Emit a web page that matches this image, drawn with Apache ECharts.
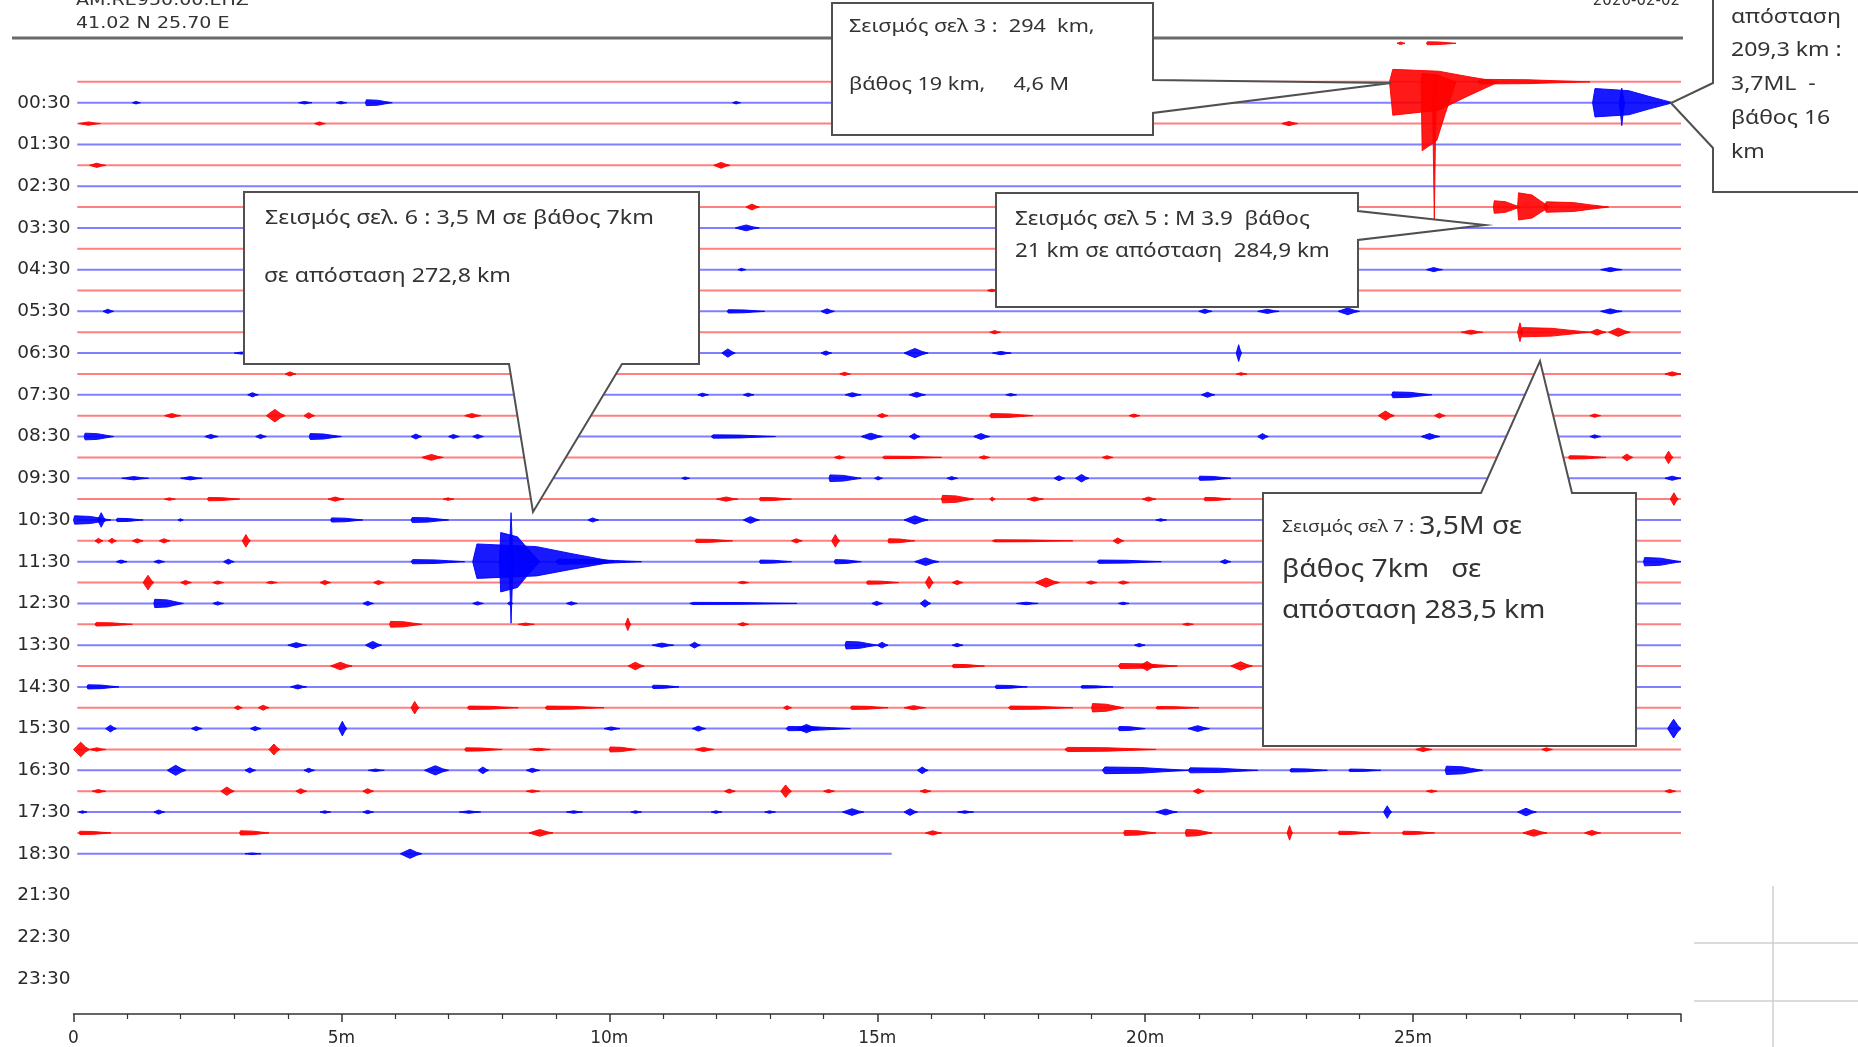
<!DOCTYPE html>
<html>
<head>
<meta charset="utf-8">
<title>AM.RE950.00.EHZ 2020-02-02</title>
<script src="https://cdn.jsdelivr.net/npm/echarts@6/dist/echarts.min.js"></script>
<style>
  html, body { margin: 0; padding: 0; background: #fff; }
  #main { width: 1858px; height: 1047px; }
</style>
</head>
<body>
<div id="main"></div>
<script>
// rows: 0 = 00:00 (red), 1 = 00:30 (blue), 2 = 01:00 ... 37 = 18:30
// x = minutes inside the half hour
const hourLabels = ['00:30', '01:30', '02:30', '03:30', '04:30', '05:30', '06:30', '07:30', '08:30', '09:30',
  '10:30', '11:30', '12:30', '13:30', '14:30', '15:30', '16:30', '17:30', '18:30', '21:30', '22:30', '23:30'];
const labelRows = [1, 3, 5, 7, 9, 11, 13, 15, 17, 19, 21, 23, 25, 27, 29, 31, 33, 35, 37, 39, 41, 43];
const minuteLabels = ['0', '5m', '10m', '15m', '20m', '25m'];

// [row, start min, end min]
const traceLines = [
  [0, 0.07, 30], [1, 0.07, 30], [2, 0.07, 30], [3, 0.07, 30], [4, 0.07, 30], [5, 0.07, 30],
  [6, 0.07, 30], [7, 0.07, 30], [8, 0.07, 30], [9, 0.07, 30], [10, 0.07, 30], [11, 0.07, 30],
  [12, 0.07, 30], [13, 0.07, 30], [14, 0.07, 30], [15, 0.07, 30], [16, 0.07, 30], [17, 0.07, 30],
  [18, 0.07, 30], [19, 0.07, 30], [20, 0.07, 30], [21, 0.07, 30], [22, 0.07, 30], [23, 0.07, 30],
  [24, 0.07, 30], [25, 0.07, 30], [26, 0.07, 30], [27, 0.07, 30], [28, 0.07, 30], [29, 0.07, 30],
  [30, 0.07, 30], [31, 0.07, 30], [32, 0.07, 30], [33, 0.07, 30], [34, 0.07, 30], [35, 0.07, 30],
  [36, 0.07, 30], [37, 0.07, 15.27]
];

// small wiggles: [row, start, end, amplitude (rows)]
const blips = [
  [1, 1.1, 1.25, 0.06], [1, 4.2, 4.45, 0.06], [1, 4.9, 5.1, 0.06], [1, 5.45, 5.95, 0.14], [1, 12.3, 12.45, 0.06],
  [2, 0.1, 0.5, 0.08], [2, 4.5, 4.7, 0.08], [2, 22.55, 22.85, 0.1],
  [4, 0.3, 0.6, 0.1], [4, 11.95, 12.25, 0.14],
  [6, 12.55, 12.8, 0.14],
  [7, 12.35, 12.8, 0.14],
  [9, 12.4, 12.55, 0.06], [9, 25.25, 25.55, 0.1], [9, 28.5, 28.9, 0.1],
  [10, 17.05, 17.25, 0.06],
  [11, 0.55, 0.75, 0.1], [11, 12.2, 12.9, 0.08], [11, 13.95, 14.2, 0.12], [11, 21.0, 21.25, 0.1],
  [11, 22.1, 22.5, 0.1], [11, 23.6, 24.0, 0.16], [11, 28.5, 28.9, 0.12],
  [12, 17.1, 17.3, 0.08], [12, 25.9, 26.3, 0.1],
  [13, 3.0, 3.3, 0.05], [13, 12.1, 12.35, 0.2], [13, 13.95, 14.15, 0.1], [13, 15.5, 15.95, 0.22],
  [13, 17.15, 17.5, 0.08], [13, 21.7, 21.8, 0.4],
  [14, 3.95, 4.15, 0.1], [14, 14.3, 14.5, 0.08], [14, 21.7, 21.9, 0.06], [14, 29.7, 30, 0.1],
  [15, 3.25, 3.45, 0.1], [15, 11.65, 11.85, 0.08], [15, 12.5, 12.7, 0.08], [15, 14.4, 14.7, 0.1],
  [15, 15.6, 15.9, 0.12], [15, 17.4, 17.6, 0.06], [15, 21.05, 21.3, 0.12], [15, 24.6, 25.35, 0.14],
  [16, 1.7, 2.0, 0.1], [16, 3.6, 3.95, 0.3], [16, 4.3, 4.5, 0.14], [16, 7.3, 7.6, 0.1], [16, 15.0, 15.2, 0.1],
  [16, 17.1, 17.9, 0.1], [16, 19.7, 19.9, 0.08], [16, 24.35, 24.65, 0.22], [16, 25.4, 25.6, 0.12], [16, 28.3, 28.5, 0.08],
  [17, 0.2, 0.75, 0.16], [17, 2.45, 2.7, 0.1], [17, 3.4, 3.6, 0.1], [17, 4.4, 5.0, 0.14], [17, 6.3, 6.5, 0.12],
  [17, 7.0, 7.2, 0.1], [17, 7.45, 7.65, 0.1], [17, 11.9, 13.1, 0.08], [17, 14.7, 15.1, 0.16], [17, 15.6, 15.8, 0.14],
  [17, 16.8, 17.1, 0.14], [17, 22.1, 22.3, 0.14], [17, 25.15, 25.5, 0.14], [17, 28.3, 28.5, 0.08],
  [18, 6.5, 6.9, 0.14], [18, 14.2, 14.4, 0.08], [18, 15.1, 16.2, 0.06], [18, 16.9, 17.1, 0.08], [18, 19.2, 19.4, 0.08],
  [18, 27.9, 28.6, 0.08], [18, 28.9, 29.1, 0.16], [18, 29.7, 29.85, 0.3],
  [19, 0.9, 1.4, 0.08], [19, 2.0, 2.4, 0.08], [19, 11.35, 11.5, 0.06], [19, 14.1, 14.7, 0.16], [19, 14.95, 15.1, 0.08],
  [19, 16.3, 16.5, 0.08], [19, 18.3, 18.5, 0.12], [19, 18.7, 18.95, 0.18], [19, 21.0, 21.6, 0.1], [19, 29.7, 30, 0.1],
  [20, 1.7, 1.9, 0.06], [20, 2.5, 3.1, 0.08], [20, 4.75, 5.05, 0.1], [20, 6.9, 7.1, 0.06], [20, 12.0, 12.4, 0.1],
  [20, 12.8, 13.4, 0.08], [20, 16.2, 16.8, 0.18], [20, 17.1, 17.2, 0.1], [20, 17.8, 18.1, 0.1], [20, 19.95, 20.2, 0.1],
  [20, 21.1, 21.6, 0.08], [20, 29.8, 29.95, 0.3],
  [21, 0.0, 0.7, 0.2], [21, 0.45, 0.6, 0.35], [21, 0.8, 1.3, 0.08], [21, 1.95, 2.05, 0.06], [21, 4.8, 5.4, 0.1],
  [21, 6.3, 7.0, 0.12], [21, 9.6, 9.8, 0.1], [21, 12.5, 12.8, 0.16], [21, 15.5, 15.95, 0.2], [21, 20.2, 20.4, 0.06],
  [22, 0.4, 0.55, 0.12], [22, 0.65, 0.8, 0.12], [22, 1.1, 1.3, 0.1], [22, 1.6, 1.8, 0.1], [22, 3.15, 3.3, 0.3],
  [22, 11.6, 12.3, 0.08], [22, 13.4, 13.6, 0.1], [22, 14.15, 14.3, 0.3], [22, 15.2, 15.7, 0.1], [22, 17.15, 18.65, 0.05],
  [22, 19.4, 19.6, 0.14],
  [23, 0.8, 1.0, 0.08], [23, 1.5, 1.7, 0.08], [23, 2.8, 3.0, 0.12], [23, 6.3, 7.3, 0.1], [23, 12.8, 13.4, 0.08],
  [23, 14.2, 14.7, 0.1], [23, 15.7, 16.15, 0.18], [23, 19.1, 20.3, 0.08], [23, 21.4, 21.6, 0.1], [23, 29.3, 30, 0.2],
  [24, 1.3, 1.5, 0.35], [24, 2.0, 2.2, 0.1], [24, 2.6, 2.8, 0.08], [24, 3.6, 3.8, 0.06], [24, 4.6, 4.8, 0.1],
  [24, 5.6, 5.8, 0.1], [24, 12.4, 12.6, 0.06], [24, 14.8, 15.4, 0.08], [24, 15.9, 16.05, 0.3], [24, 16.4, 16.6, 0.1],
  [24, 17.95, 18.4, 0.22], [24, 18.9, 19.1, 0.08], [24, 19.5, 19.7, 0.08],
  [25, 1.5, 2.05, 0.2], [25, 2.6, 2.8, 0.08], [25, 5.4, 5.6, 0.1], [25, 7.45, 7.65, 0.08], [25, 8.1, 8.2, 0.08],
  [25, 9.2, 9.4, 0.08], [25, 11.5, 13.5, 0.05], [25, 14.9, 15.1, 0.1], [25, 15.8, 16.0, 0.18], [25, 17.6, 18.0, 0.06],
  [25, 19.5, 19.7, 0.06],
  [26, 0.4, 1.1, 0.08], [26, 5.9, 6.5, 0.14], [26, 8.3, 8.6, 0.06], [26, 10.3, 10.4, 0.3], [26, 12.4, 12.6, 0.08],
  [26, 20.7, 20.9, 0.06],
  [27, 4.0, 4.35, 0.12], [27, 5.45, 5.75, 0.18], [27, 10.8, 11.2, 0.1], [27, 11.5, 11.7, 0.14], [27, 14.4, 15.0, 0.18],
  [27, 15.0, 15.2, 0.14], [27, 16.4, 16.6, 0.08], [27, 19.8, 20.0, 0.08],
  [28, 4.8, 5.2, 0.18], [28, 10.35, 10.65, 0.18], [28, 16.4, 17.0, 0.08], [28, 19.5, 20.6, 0.12], [28, 19.9, 20.2, 0.22],
  [28, 21.6, 22.0, 0.2],
  [29, 0.25, 0.85, 0.1], [29, 4.05, 4.35, 0.1], [29, 10.8, 11.3, 0.08], [29, 17.2, 17.8, 0.08], [29, 18.8, 19.4, 0.06],
  [30, 3.0, 3.15, 0.1], [30, 3.45, 3.65, 0.12], [30, 6.3, 6.45, 0.3], [30, 7.35, 8.3, 0.08], [30, 8.8, 9.9, 0.08],
  [30, 13.25, 13.4, 0.1], [30, 14.5, 15.2, 0.08], [30, 15.5, 15.9, 0.1], [30, 17.45, 18.65, 0.08], [30, 19.0, 19.6, 0.2],
  [30, 20.2, 21.0, 0.06],
  [31, 0.6, 0.8, 0.16], [31, 2.2, 2.4, 0.1], [31, 3.3, 3.5, 0.1], [31, 4.95, 5.1, 0.35], [31, 9.9, 10.2, 0.08],
  [31, 11.55, 11.8, 0.12], [31, 13.3, 14.5, 0.1], [31, 13.5, 13.9, 0.2], [31, 19.5, 20.0, 0.1], [31, 20.8, 21.2, 0.14],
  [31, 29.75, 30, 0.45],
  [32, 0.0, 0.3, 0.35], [32, 0.3, 0.6, 0.08], [32, 3.65, 3.85, 0.26], [32, 7.3, 8.0, 0.08], [32, 8.5, 8.9, 0.06],
  [32, 10.0, 10.5, 0.12], [32, 11.6, 11.95, 0.1], [32, 18.5, 20.2, 0.1], [32, 25.05, 25.35, 0.1], [32, 27.4, 27.6, 0.08],
  [33, 1.75, 2.1, 0.24], [33, 3.2, 3.4, 0.12], [33, 4.3, 4.5, 0.1], [33, 5.5, 5.8, 0.06], [33, 6.55, 7.0, 0.22],
  [33, 7.55, 7.75, 0.16], [33, 8.45, 8.7, 0.1], [33, 15.75, 15.95, 0.16], [33, 19.2, 20.8, 0.16], [33, 20.8, 22.1, 0.12],
  [33, 22.7, 23.4, 0.08], [33, 23.8, 24.4, 0.06], [33, 25.6, 26.3, 0.2],
  [34, 0.35, 0.6, 0.08], [34, 2.75, 3.0, 0.2], [34, 4.15, 4.35, 0.12], [34, 5.4, 5.6, 0.12], [34, 8.45, 8.7, 0.06],
  [34, 12.15, 12.35, 0.1], [34, 13.2, 13.4, 0.3], [34, 14.0, 14.2, 0.08], [34, 15.8, 16.0, 0.08], [34, 20.9, 21.1, 0.12],
  [34, 25.25, 25.45, 0.06], [34, 29.7, 29.9, 0.08],
  [35, 0.1, 0.25, 0.06], [35, 1.5, 1.7, 0.1], [35, 4.6, 4.8, 0.06], [35, 5.4, 5.6, 0.08], [35, 7.2, 7.6, 0.06],
  [35, 9.2, 9.5, 0.06], [35, 10.4, 10.6, 0.06], [35, 11.9, 12.1, 0.06], [35, 12.9, 13.1, 0.06], [35, 14.35, 14.75, 0.16],
  [35, 15.5, 15.75, 0.16], [35, 16.5, 16.8, 0.06], [35, 20.2, 20.6, 0.14], [35, 24.45, 24.6, 0.3], [35, 26.95, 27.3, 0.18],
  [36, 0.1, 0.7, 0.08], [36, 3.1, 3.65, 0.1], [36, 8.5, 8.95, 0.16], [36, 15.9, 16.2, 0.1], [36, 19.6, 20.2, 0.12],
  [36, 20.75, 21.25, 0.16], [36, 22.65, 22.75, 0.35], [36, 23.6, 24.2, 0.08], [36, 24.8, 25.4, 0.08], [36, 27.05, 27.5, 0.16],
  [36, 28.2, 28.5, 0.12],
  [37, 3.2, 3.5, 0.04], [37, 6.1, 6.5, 0.22]
];

// earthquakes: [row, start, end, amplitude up, amplitude down] (rows)
const bigEvents = [
  // σελ 3, 4.6 M (00:00)
  [0, 24.56, 26.6, 0.6, 1.6], [0, 25.15, 25.8, 0.4, 3.3], [0, 25.36, 25.44, 0, 6.6], [0, 26.2, 28.3, 0.12, 0.1],
  [-1.85, 24.7, 24.85, 0.06, 0.06], [-1.85, 25.25, 25.8, 0.07, 0.07],
  // 3,7 ML (00:30)
  [1, 28.35, 29.85, 0.68, 0.68], [1, 28.85, 28.95, 0.7, 1.1],
  // σελ 5, M 3.9 (03:00)
  [6, 26.5, 27.0, 0.3, 0.3], [6, 26.95, 27.55, 0.68, 0.62], [6, 27.45, 28.65, 0.25, 0.25],
  // σελ 7, 3,5 M (06:00)
  [12, 26.95, 27.05, 0.45, 0.45], [12, 27.0, 28.3, 0.22, 0.22], [12, 28.3, 28.6, 0.14, 0.14], [12, 28.65, 29.05, 0.2, 0.2],
  // σελ 6, 3,5 M (11:30)
  [23, 7.45, 10.1, 0.85, 0.8], [23, 7.95, 8.7, 1.4, 1.45], [23, 8.13, 8.21, 2.35, 2.95], [23, 9.0, 10.6, 0.12, 0.12]
];

const RED = '#ff0000';
const BLUE = '#0000ff';

function rowColor(row) {
  return Math.abs(Math.round(row)) % 2 === 0 ? RED : BLUE;
}

const labelOf = {};
labelRows.forEach((r, i) => { labelOf[r] = hourLabels[i]; });

function renderTrace(params, api) {
  const row = api.value(0);
  const a = api.coord([api.value(1), row]);
  const b = api.coord([api.value(2), row]);
  return {
    type: 'line',
    shape: { x1: a[0], y1: a[1], x2: b[0], y2: b[1] },
    style: { stroke: rowColor(row), lineWidth: 2, opacity: 0.5 }
  };
}

function renderEvent(params, api) {
  const row = api.value(0), t0 = api.value(1), t1 = api.value(2);
  const up = api.value(3), down = api.value(4);
  const d = t1 - t0;
  let env;
  if (d < 0.5) {
    env = [[t0, 0], [t0 + 0.15 * d, 0.35], [t0 + 0.45 * d, 1], [t0 + 0.75 * d, 0.35], [t1, 0]];
  } else {
    env = [[t0, 0], [t0 + 0.03 * d, 1], [t0 + 0.45 * d, 0.85], [t0 + 0.7 * d, 0.45], [t0 + 0.88 * d, 0.18], [t1, 0]];
  }
  const pts = [];
  env.forEach(p => pts.push(api.coord([p[0], row - p[1] * up])));
  for (let i = env.length - 2; i > 0; i--) {
    pts.push(api.coord([env[i][0], row + env[i][1] * down]));
  }
  const c = rowColor(row);
  return {
    type: 'polygon',
    shape: { points: pts },
    style: { fill: c, stroke: c, lineWidth: 1, opacity: 0.9 }
  };
}

const chart = echarts.init(document.getElementById('main'));

const FONT = '"Noto Sans", "Open Sans", sans-serif';
const TXT = '#333333';

function txt(x, y, text, size, sx) {
  return {
    type: 'text', x: x, y: y, scaleX: sx || 1.15, z: 20,
    style: { text: text, font: size + 'px ' + FONT, fill: TXT, verticalAlign: 'middle' }
  };
}

function callout(points) {
  return {
    type: 'polygon', z: 19,
    shape: { points: points },
    style: { fill: '#ffffff', stroke: '#505050', lineWidth: 2 }
  };
}

chart.setOption({
  animation: false,
  backgroundColor: '#ffffff',
  grid: { left: 73.5, right: 177, top: 61, bottom: 33, outerBoundsMode: 'none' },
  xAxis: {
    type: 'value', min: 0, max: 30, interval: 5, position: 'bottom',
    axisLine: { onZero: false, lineStyle: { color: '#333', width: 1.5 } },
    axisTick: { length: 8, lineStyle: { color: '#333', width: 1.5 } },
    minorTick: { show: true, splitNumber: 5, length: 5, lineStyle: { color: '#333', width: 1.2 } },
    splitLine: { show: false },
    axisLabel: {
      margin: 16, color: '#2a2a2a', fontFamily: 'DejaVu Sans', fontSize: 17,
      formatter: v => minuteLabels[v / 5] || ''
    }
  },
  yAxis: {
    type: 'value', inverse: true, min: -1, max: 44.68, interval: 1,
    axisLine: { show: false }, axisTick: { show: false }, splitLine: { show: false },
    axisLabel: {
      margin: 3, color: '#2a2a2a', fontFamily: 'DejaVu Sans', fontSize: 18.5,
      formatter: v => labelOf[v] || ''
    }
  },
  series: [
    {
      type: 'custom', name: 'trace', renderItem: renderTrace, silent: true,
      encode: { x: [1, 2], y: 0 }, data: traceLines
    },
    {
      type: 'custom', name: 'blips', renderItem: renderEvent, silent: true,
      encode: { x: [1, 2], y: 0 }, data: blips.map(b => [b[0], b[1], b[2], b[3], b[3]])
    },
    {
      type: 'custom', name: 'events', renderItem: renderEvent, silent: true,
      encode: { x: [1, 2], y: 0 }, data: bigEvents
    }
  ],
  graphic: [
    // header
    { type: 'line', z: 5, shape: { x1: 12, y1: 38, x2: 1683, y2: 38 }, style: { stroke: '#6a6a6a', lineWidth: 3 } },
    { type: 'text', x: 76, y: 1, scaleX: 1.27, z: 5, style: { text: 'AM.RE950.00.EHZ', font: '15px "DejaVu Sans"', fill: '#333', verticalAlign: 'middle' } },
    { type: 'text', x: 76, y: 24, scaleX: 1.27, z: 5, style: { text: '41.02 N 25.70 E', font: '15px "DejaVu Sans"', fill: '#333', verticalAlign: 'middle' } },
    { type: 'text', x: 1680, y: 1, z: 5, style: { text: '2020-02-02', font: '15px "DejaVu Sans"', fill: '#333', align: 'right', verticalAlign: 'middle' } },
    // leftover frame lines bottom right
    { type: 'line', z: 5, shape: { x1: 1773, y1: 886, x2: 1773, y2: 1047 }, style: { stroke: '#cfcfcf', lineWidth: 1.5 } },
    { type: 'line', z: 5, shape: { x1: 1694, y1: 943, x2: 1858, y2: 943 }, style: { stroke: '#cfcfcf', lineWidth: 1.5 } },
    { type: 'line', z: 5, shape: { x1: 1694, y1: 1001, x2: 1858, y2: 1001 }, style: { stroke: '#cfcfcf', lineWidth: 1.5 } },
    // callouts
    callout([[832, 3], [1153, 3], [1153, 80], [1391, 83], [1153, 113], [1153, 135], [832, 135]]),
    txt(849, 27, 'Σεισμός σελ 3 :  294  km,', 18, 1.2),
    txt(849, 85, 'βάθος 19 km,     4,6 M', 18, 1.2),

    callout([[1713, -5], [1870, -5], [1870, 192], [1713, 192], [1713, 148], [1671, 103], [1713, 83]]),
    txt(1731, 17, 'απόσταση', 20),
    txt(1731, 50, '209,3 km :', 20),
    txt(1731, 84, '3,7ML  -', 20),
    txt(1731, 118, 'βάθος 16', 20),
    txt(1731, 152, 'km', 20),

    callout([[244, 192], [699, 192], [699, 364], [622, 364], [533, 512], [509, 364], [244, 364]]),
    txt(265, 218, 'Σεισμός σελ. 6 : 3,5 M σε βάθος 7km', 20, 1.16),
    txt(264, 276, 'σε απόσταση 272,8 km', 20, 1.16),

    callout([[996, 193], [1358, 193], [1358, 211], [1485, 225], [1358, 240], [1358, 307], [996, 307]]),
    txt(1015, 220, 'Σεισμός σελ 5 : M 3.9  βάθος', 19, 1.18),
    txt(1015, 252, '21 km σε απόσταση  284,9 km', 19, 1.18),

    callout([[1263, 493], [1481, 493], [1540, 361], [1572, 493], [1636, 493], [1636, 746], [1263, 746]]),
    {
      type: 'text', x: 1282, y: 527, scaleX: 1.13, z: 20,
      style: {
        text: '{s|Σεισμός σελ 7 : }{b|3,5M σε}', fill: TXT, verticalAlign: 'middle',
        rich: {
          s: { fontSize: 17, fontFamily: FONT, fill: TXT },
          b: { fontSize: 25, fontFamily: FONT, fill: TXT }
        }
      }
    },
    txt(1282, 570, 'βάθος 7km   σε', 25, 1.13),
    txt(1282, 611, 'απόσταση 283,5 km', 25, 1.13)
  ]
});
</script>
</body>
</html>
